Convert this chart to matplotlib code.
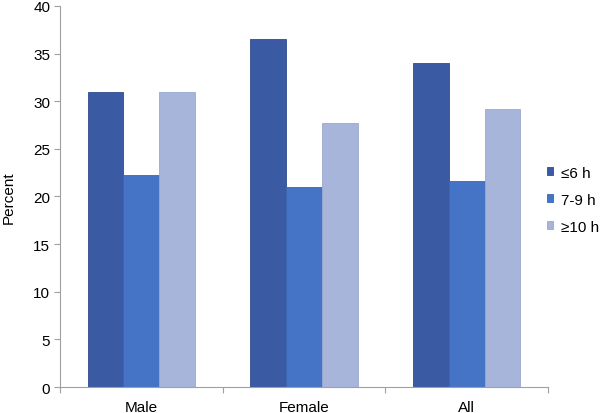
import matplotlib.pyplot as plt
import numpy as np

plt.rcParams["font.family"] = ["Liberation Sans", "DejaVu Sans"]

# Valores.
CATEGORIAS = ["Male", "Female", "All"]
SERIES = ["≤6 h", "7-9 h", "≥10 h"]
MENOS_6H = [31.0, 36.5, 34.0]
ENTRE_7_9H = [22.3, 21.0, 21.6]
MAIS_10H = [31.0, 27.7, 29.2]
CORES = ["#3A5BA3", "#4573C6", "#A8B5DA"]
BORDAS = ["#2F4C8C", "#3C66B3", "#9CA9CF"]
Y_TICKS = [0, 5, 10, 15, 20, 25, 30, 35, 40]


def gerar_grafico() -> None:
    fig = plt.figure(figsize=(6.0, 4.14), dpi=100)
    ax = fig.add_axes([0.1, 0.0628, 0.8133, 0.9203])

    x = np.arange(len(CATEGORIAS))
    largura = 0.22
    valores = [MENOS_6H, ENTRE_7_9H, MAIS_10H]
    for i, (serie, cor, borda) in enumerate(zip(valores, CORES, BORDAS)):
        ax.bar(
            x + (i - 1) * largura,
            serie,
            width=largura,
            color=cor,
            edgecolor=borda,
            linewidth=0.6,
            label=SERIES[i],
            zorder=2,
        )

    ax.set_xlim(-0.5, len(CATEGORIAS) - 0.5)
    ax.set_ylim(0, 40)
    ax.set_yticks(Y_TICKS)
    ax.set_xticks(x)
    ax.set_xticklabels(CATEGORIAS)
    ax.set_xticks(np.arange(len(CATEGORIAS) + 1) - 0.5, minor=True)

    ax.tick_params(axis="x", which="major", length=0, pad=9, labelsize=11)
    ax.tick_params(axis="x", which="minor", length=4, color="#A0A0A0", width=0.8)
    ax.tick_params(axis="y", length=4, color="#A0A0A0", width=0.8, labelsize=11, pad=3)

    for lado in ["top", "right"]:
        ax.spines[lado].set_visible(False)
    for lado in ["left", "bottom"]:
        ax.spines[lado].set_color("#A0A0A0")
        ax.spines[lado].set_linewidth(0.8)

    ax.set_ylabel("Percent", fontsize=11)
    ax.yaxis.set_label_coords(-0.09, 0.5)

    ax.legend(
        loc="center left",
        bbox_to_anchor=(0.912, 0.515),
        bbox_transform=fig.transFigure,
        frameon=False,
        fontsize=11,
        handlelength=0.4,
        handleheight=0.4,
        handletextpad=0.5,
        labelspacing=0.85,
        borderaxespad=0,
        borderpad=0,
    )

    fig.savefig("out.png", dpi=100)
    plt.close(fig)


if __name__ == "__main__":
    gerar_grafico()
